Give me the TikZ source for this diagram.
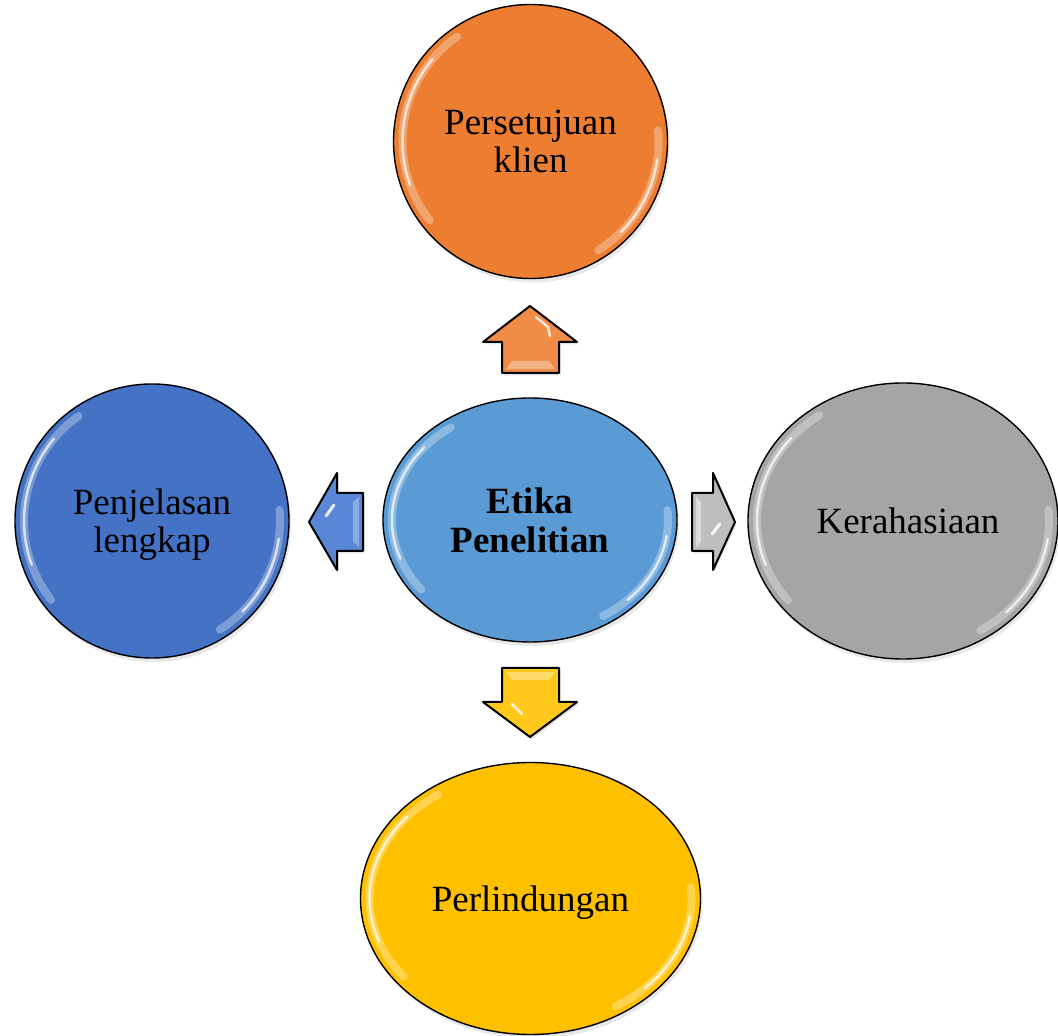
\documentclass[tikz,border=0pt]{standalone}
\usepackage{fontspec}
\setmainfont{Liberation Serif}
\usetikzlibrary{calc,shapes.geometric,shadows}
\definecolor{corange}{HTML}{ED7D31}
\definecolor{cblue}{HTML}{5B9BD5}
\definecolor{cdblue}{HTML}{4472C4}
\definecolor{cgray}{HTML}{A5A5A5}
\definecolor{cyellow}{HTML}{FFC000}
\definecolor{aorange}{HTML}{F08C45}
\definecolor{ablue}{HTML}{5A86D6}
\definecolor{agray}{HTML}{BEBEBE}
\definecolor{ayellow}{HTML}{FFC81A}
\tikzset{
  circ/.style={ellipse, draw=black, line width=1.4pt, inner sep=0pt, align=center,
    font=\fontsize{37}{38}\selectfont, text depth=0pt,
    drop shadow={opacity=.18, shadow xshift=2pt, shadow yshift=-4pt}},
  arrowbox/.style={draw=black, line width=2pt, line join=round,
    drop shadow={opacity=.2, shadow xshift=1.5pt, shadow yshift=-2.5pt}},
  glint/.style={white, line cap=round},
  lbl/.style={align=center, font=\fontsize{37}{38}\selectfont, text depth=0pt},
}
\newcommand\glossarc[3]{%
  \pgfmathsetmacro\grx{#2-9}\pgfmathsetmacro\gry{#3-9}%
  \draw[glint, opacity=.3, line width=8pt] ($(#1.center)+(125:\grx pt and \gry pt)$)
     arc[start angle=125, end angle=218, x radius=\grx pt, y radius=\gry pt];
  \draw[glint, opacity=.7, line width=2.5pt] ($(#1.center)+(140:\grx pt and \gry pt)$)
     arc[start angle=140, end angle=200, x radius=\grx pt, y radius=\gry pt];
  \draw[glint, opacity=.3, line width=8pt] ($(#1.center)+(5:\grx pt and \gry pt)$)
     arc[start angle=5, end angle=-58, x radius=\grx pt, y radius=\gry pt];
  \draw[glint, opacity=.7, line width=2.5pt] ($(#1.center)+(-8:\grx pt and \gry pt)$)
     arc[start angle=-8, end angle=-45, x radius=\grx pt, y radius=\gry pt];
}
\begin{document}
\begin{tikzpicture}[x=1pt,y=1pt]
\useasboundingbox (0,0) rectangle (1058,1036);
% circles
\node[circ, fill=corange, minimum width=274pt, minimum height=274pt] (top) at (530.5,894.5) {};
\node[circ, fill=cblue, minimum width=294pt, minimum height=244pt] (mid) at (530,516) {};
\node[circ, fill=cdblue, minimum width=274pt, minimum height=274pt] (left) at (152,515) {};
\node[circ, fill=cgray, minimum width=310pt, minimum height=276pt] (right) at (903,515) {};
\node[circ, fill=cyellow, minimum width=340pt, minimum height=272pt] (bot) at (530.5,137.5) {};
\glossarc{top}{137}{137}
\glossarc{mid}{147}{122}
\glossarc{left}{137}{137}
\glossarc{right}{155}{138}
\glossarc{bot}{170}{136}
% texts
\node[lbl] (ttop) at (top.center) {Persetujuan\\klien};
\node[lbl, font=\fontsize{37}{39}\selectfont\bfseries] (tmid) at (mid.center) {Etika\\Penelitian};
\node[lbl] (tleft) at (left.center) {Penjelasan\\lengkap};
\node[lbl, xshift=5pt] (tright) at (right.center) {Kerahasiaan};
\node[lbl] (tbot) at (bot.center) {Perlindungan};
% block arrows
% up
\draw[arrowbox, fill=aorange] (530,730) -- (577,694) -- (559,694) -- (559,663) -- (502,663) -- (502,694) -- (483,694) -- cycle;
\fill[white, opacity=.35] (506,667) -- (555,667) -- (549,675) -- (512,675) -- cycle;
\draw[glint, opacity=.8, line width=2.5pt] (536,719) -- (548,709) -- (550,700);
% down
\draw[arrowbox, fill=ayellow] (530,299) -- (577,334) -- (559,334) -- (559,368) -- (502,368) -- (502,334) -- (483,334) -- cycle;
\fill[white, opacity=.35] (506,364) -- (555,364) -- (549,356) -- (512,356) -- cycle;
\draw[glint, opacity=.8, line width=2.5pt] (512,332) -- (522,322);
% left
\draw[arrowbox, fill=ablue] (309,514) -- (337,563) -- (337,543) -- (363,543) -- (363,485) -- (337,485) -- (337,466) -- cycle;
\fill[white, opacity=.3] (359,539) -- (359,489) -- (353,494) -- (353,534) -- cycle;
\draw[glint, opacity=.85, line width=3pt] (326,520) -- (334,531);
% right
\draw[arrowbox, fill=agray] (735,514) -- (713,563) -- (713,543) -- (692,543) -- (692,485) -- (713,485) -- (713,466) -- cycle;
\fill[white, opacity=.45] (696,539) -- (696,489) -- (701,494) -- (701,534) -- cycle;
\draw[glint, opacity=.9, line width=3pt] (712,502) -- (720,512);
\end{tikzpicture}
\end{document}
